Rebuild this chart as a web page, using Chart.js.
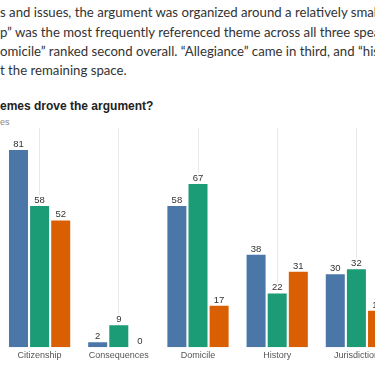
<!DOCTYPE html>
<html lang="en">
<head>
    <meta charset="UTF-8">
    <title>Which themes drove the argument?</title>
    <script src="https://cdn.jsdelivr.net/npm/chart.js"></script>
    <style>
        html, body { margin: 0; padding: 0; background: #fff; }
        body { width: 375px; height: 366px; overflow: hidden; position: relative; }
        .line {
            position: absolute; left: 0; white-space: nowrap;
            font-family: Lato, "Open Sans", sans-serif; font-size: 13.2px; color: #333;
        }
        .title {
            position: absolute; left: 0; top: 99px; white-space: nowrap;
            font-family: "Liberation Sans", Arial, sans-serif; font-weight: bold; font-size: 12px; color: #222;
        }
        .subtitle {
            position: absolute; left: 0; top: 117px; white-space: nowrap;
            font-family: "Liberation Sans", Arial, sans-serif; font-size: 9px; color: #888;
        }
        .chart-box { position: absolute; left: 0; top: 120px; width: 396px; height: 246px; }
    </style>
</head>
<body>
    <div class="line" style="top:4px">s and issues, the argument was organized around a relatively small</div>
    <div class="line" style="top:24px">p” was the most frequently referenced theme across all three speakers</div>
    <div class="line" style="top:43px">omicile” ranked second overall. “Allegiance” came in third, and “history”</div>
    <div class="line" style="top:62px">t the remaining space.</div>

    <div class="title">emes drove the argument?</div>
    <div class="subtitle">es</div>

    <div class="chart-box"><canvas id="themesChart"></canvas></div>

    <script>
        // categories and counts per speaker
        const themes = ['Citizenship', 'Consequences', 'Domicile', 'History', 'Jurisdiction'];
        const speakerA = [81, 2, 58, 38, 30];
        const speakerB = [58, 9, 67, 22, 32];
        const speakerC = [52, 0, 17, 31, 15];

        // draws the number over each bar, on a small white box
        const valueLabels = {
            id: 'valueLabels',
            afterDatasetsDraw(chart) {
                const ctx = chart.ctx;
                ctx.save();
                ctx.font = '9.5px "Liberation Sans", Arial, sans-serif';
                ctx.textAlign = 'center';
                ctx.textBaseline = 'bottom';
                chart.data.datasets.forEach((ds, i) => {
                    chart.getDatasetMeta(i).data.forEach((bar, j) => {
                        const txt = String(ds.data[j]);
                        const w = ctx.measureText(txt).width;
                        const y = bar.y - 1;
                        ctx.fillStyle = '#fff';
                        ctx.fillRect(bar.x - w / 2 - 2, y - 10, w + 4, 10);
                        ctx.fillStyle = '#333';
                        ctx.fillText(txt, bar.x, y);
                    });
                });
                ctx.restore();
            }
        };

        new Chart(document.getElementById('themesChart'), {
            type: 'bar',
            data: {
                labels: themes,
                datasets: [
                    { label: 'Speaker 1', data: speakerA, backgroundColor: '#4a77a8' },
                    { label: 'Speaker 2', data: speakerB, backgroundColor: '#1b9b76' },
                    { label: 'Speaker 3', data: speakerC, backgroundColor: '#d95f02' }
                ]
            },
            options: {
                responsive: true,
                maintainAspectRatio: false,
                animation: false,
                layout: { padding: { top: 8, bottom: 2, left: 0, right: 0 } },
                plugins: { legend: { display: false }, tooltip: { enabled: false } },
                scales: {
                    x: {
                        grid: { offset: false, color: '#e8e8e8', drawTicks: false },
                        border: { display: false },
                        ticks: {
                            padding: 3,
                            color: '#555',
                            font: { family: '"Liberation Sans", Arial, sans-serif', size: 9 }
                        }
                    },
                    y: { display: false, min: 0, max: 90 }
                }
            },
            plugins: [valueLabels]
        });
    </script>
</body>
</html>
